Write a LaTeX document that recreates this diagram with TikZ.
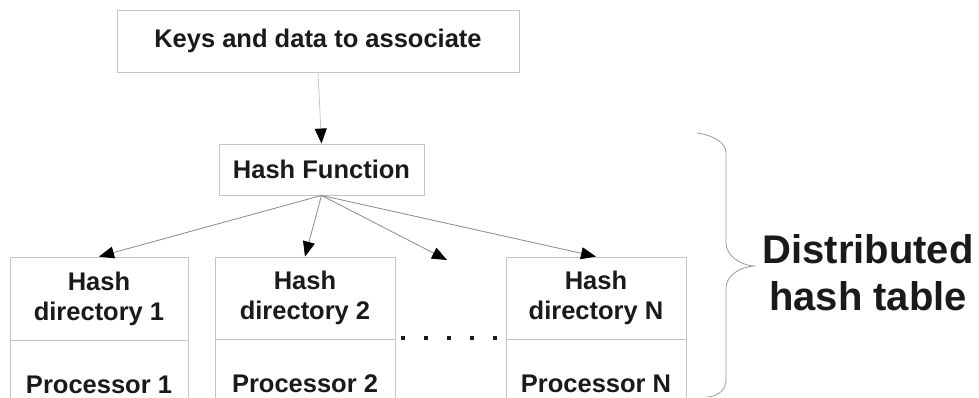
\documentclass[tikz,border=0pt]{standalone}
\usepackage{fontspec}
\setmainfont{Liberation Sans}
\usetikzlibrary{arrows.meta}
\definecolor{txt}{HTML}{1A1A1A}
\definecolor{boxline}{HTML}{C4C4C4}
\definecolor{conn}{HTML}{8A8A8A}
\begin{document}
\begin{tikzpicture}[x=1pt,y=-1pt,
  box/.style={draw=boxline,line width=0.9pt,rectangle,inner sep=0pt,align=center,
    text=txt,font=\fontsize{25.5}{30}\selectfont\bfseries},
  conn/.style={draw=conn,line width=0.8pt,-{Triangle[length=15pt,width=12pt,color=black]}},
  big/.style={text=txt,align=center,font=\fontsize{40}{47}\selectfont\bfseries}]
\useasboundingbox (0,0) rectangle (979,398);
\fill[white] (0,0) rectangle (979,398);
\node[box,minimum width=402pt,minimum height=62pt] (keys) at (318,41) {Keys and data to associate};
\node[box,minimum width=205pt,minimum height=51pt] (hf) at (321.5,169.5) {Hash Function};
\node[box,minimum width=178pt,minimum height=83pt] (d1) at (99,298.5) {Hash\\directory 1};
\node[box,minimum width=178pt,minimum height=88pt,anchor=north] (p1) at (d1.south) {Processor 1};
\node[box,minimum width=180pt,minimum height=82pt] (d2) at (305,298) {Hash\\directory 2};
\node[box,minimum width=180pt,minimum height=88pt,anchor=north] (p2) at (d2.south) {Processor 2};
\node[box,minimum width=180pt,minimum height=82pt] (dn) at (596,298) {Hash\\directory N};
\node[box,minimum width=180pt,minimum height=88pt,anchor=north] (pn) at (dn.south) {Processor N};
\coordinate (dots) at (447,260);
\draw[conn,draw=boxline] (keys.south) -- (hf.north);
\draw[conn] (hf.south) -- (d1.north);
\draw[conn] (hf.south) -- (d2.north);
\draw[conn] (hf.south) -- (dots);
\draw[conn] (hf.south) -- (dn.north);
\foreach \x in {403,426,449,472,495} \fill[txt] (\x-2,336) rectangle (\x+2,340);
\draw[draw=gray!80,line width=0.8pt] (697,133) .. controls (712,135) and (726,142) .. (726,153)
  -- (726,243) .. controls (726,255) and (740,266) .. (756,266)
  .. controls (740,266) and (726,276) .. (726,288)
  -- (726,380) .. controls (726,390) and (718,396) .. (708,397);
\node[big] (dht) at (868,273) {Distributed\\hash table};
\end{tikzpicture}
\end{document}
